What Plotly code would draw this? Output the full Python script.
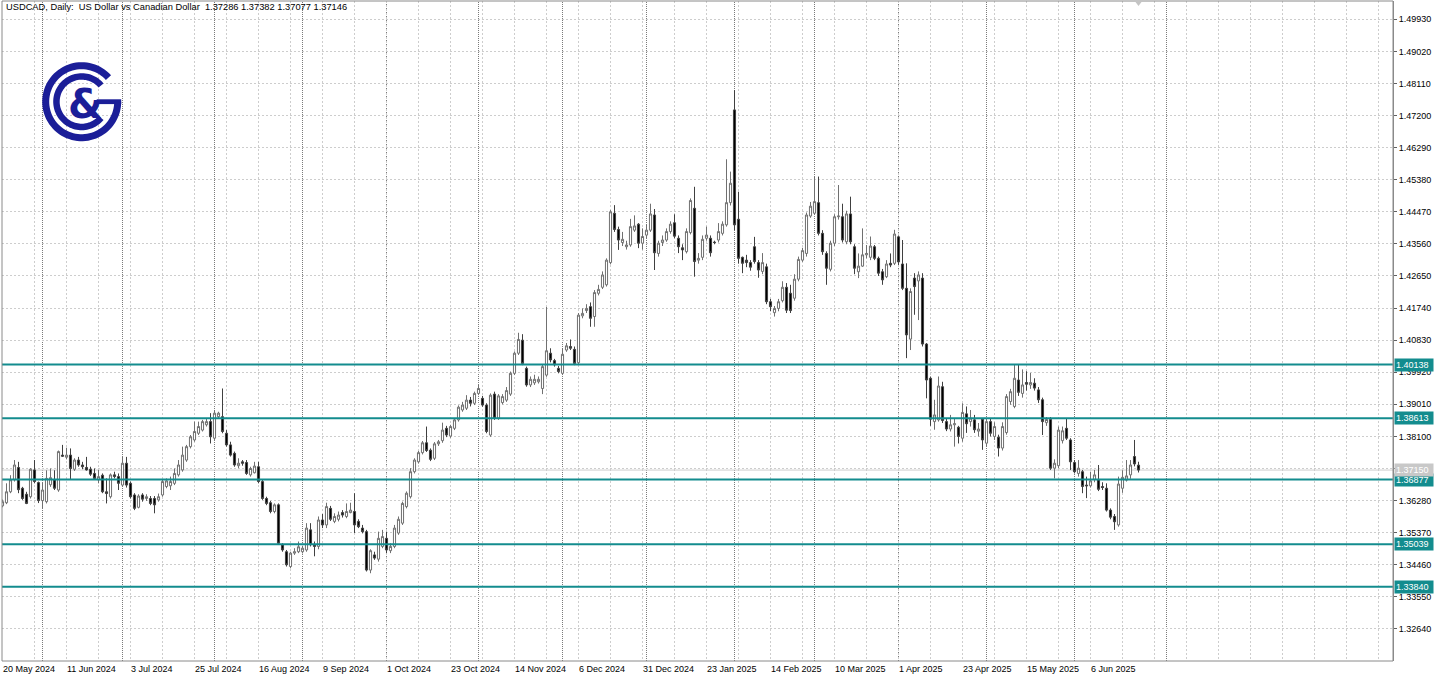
import numpy as np
import plotly.graph_objects as go

# ---------------- data ----------------
opens = [1.3613,1.3622,1.3653,1.3687,1.3722,1.3663,1.3646,1.3639,1.3715,1.3679,
1.3628,1.3625,1.3673,1.3687,1.3658,1.3757,1.3751,1.3757,1.3717,1.3743,
1.3729,1.3722,1.3717,1.3705,1.3687,1.3700,1.3653,1.3639,1.3701,1.3696,
1.3672,1.3734,1.3677,1.3644,1.3609,1.3644,1.3634,1.3634,1.3634,1.3630,
1.3644,1.3668,1.3670,1.3677,1.3701,1.3715,1.3743,1.3781,1.3800,1.3819,
1.3828,1.3843,1.3852,1.3805,1.3866,1.3866,1.3819,1.3786,1.3762,1.3727,
1.3738,1.3736,1.3701,1.3707,1.3724,1.3682,1.3634,1.3622,1.3597,1.3616,
1.3502,1.3483,1.3441,1.3479,1.3483,1.3483,1.3488,1.3545,1.3503,1.3498,
1.3573,1.3559,1.3606,1.3569,1.3575,1.3594,1.3583,1.3594,1.3597,1.3569,
1.3550,1.3540,1.3431,1.3474,1.3462,1.3498,1.3521,1.3486,1.3498,1.3536,
1.3564,1.3611,1.3639,1.3710,1.3738,1.3764,1.3792,1.3771,1.3748,1.3789,
1.3798,1.3833,1.3811,1.3833,1.3857,1.3885,1.3890,1.3913,1.3904,1.3932,
1.3918,1.3899,1.3814,1.3930,1.3862,1.3906,1.3913,1.3930,1.3989,1.4046,
1.4083,1.4003,1.3956,1.3962,1.3965,1.3946,1.3984,1.4046,1.4025,1.4003,
1.3989,1.4055,1.4065,1.4057,1.4019,1.4152,1.4167,1.4178,1.4150,1.4216,
1.4233,1.4240,1.4303,1.4443,1.4397,1.4360,1.4348,1.4353,1.4395,1.4412,
1.4358,1.4381,1.4395,1.4438,1.4329,1.4360,1.4367,1.4391,1.4416,1.4372,
1.4345,1.4334,1.4388,1.4457,1.4310,1.4318,1.4372,1.4372,1.4361,1.4367,
1.4386,1.4410,1.4473,1.4736,1.4426,1.4318,1.4310,1.4303,1.4348,1.4303,
1.4278,1.4291,1.4192,1.4161,1.4173,1.4195,1.4233,1.4216,1.4202,1.4256,
1.4310,1.4329,1.4435,1.4443,1.4473,1.4386,1.4329,1.4284,1.4358,1.4433,
1.4433,1.4362,1.4441,1.4348,1.4277,1.4293,1.4325,1.4318,1.4348,1.4315,
1.4277,1.4263,1.4301,1.4301,1.4376,1.4299,1.4230,1.4086,1.4259,1.4251,
1.4259,1.4072,1.3975,1.3852,1.3857,1.3951,1.3852,1.3831,1.3843,1.3836,
1.3805,1.3874,1.3852,1.3857,1.3825,1.3859,1.3791,1.3852,1.3810,1.3808,
1.3777,1.3821,1.3909,1.3895,1.3970,1.3932,1.3963,1.3956,1.3961,1.3942,
1.3914,1.3849,1.3858,1.3720,1.3727,1.3798,1.3833,1.3800,1.3736,1.3705,
1.3710,1.3672,1.3670,1.3688,1.3687,1.3668,1.3663,1.3601,1.3583,1.3559,
1.3663,1.3686,1.3701,1.3753,1.37286]
highs = [1.3631,1.3677,1.3700,1.3743,1.3738,1.3667,1.3653,1.3720,1.3743,1.3682,
1.3678,1.3714,1.3719,1.3714,1.3770,1.3786,1.3778,1.3776,1.3748,1.3752,
1.3738,1.3752,1.3724,1.3719,1.3715,1.3705,1.3691,1.3705,1.3710,1.3705,
1.3752,1.3752,1.3682,1.3649,1.3646,1.3649,1.3646,1.3641,1.3641,1.3648,
1.3687,1.3691,1.3696,1.3719,1.3743,1.3781,1.3786,1.3814,1.3852,1.3852,
1.3857,1.3862,1.3876,1.3885,1.3880,1.3946,1.3828,1.3795,1.3767,1.3748,
1.3743,1.3743,1.3724,1.3738,1.3738,1.3687,1.3639,1.3627,1.3620,1.3620,
1.3507,1.3488,1.3483,1.3493,1.3512,1.3500,1.3564,1.3564,1.3512,1.3583,
1.3590,1.3622,1.3613,1.3592,1.3597,1.3601,1.3620,1.3622,1.3649,1.3575,
1.3559,1.3545,1.3490,1.3483,1.3540,1.3545,1.3540,1.3507,1.3559,1.3583,
1.3625,1.3654,1.3720,1.3748,1.3769,1.3797,1.3838,1.3776,1.3794,1.3800,
1.3849,1.3840,1.3843,1.3862,1.3898,1.3908,1.3927,1.3922,1.3937,1.3956,
1.3925,1.3904,1.3932,1.3937,1.3930,1.3930,1.3950,1.3994,1.4051,1.4104,
1.4100,1.4008,1.3980,1.3985,1.3980,1.4013,1.4177,1.4060,1.4030,1.4010,
1.4060,1.4075,1.4085,1.4065,1.4160,1.4173,1.4185,1.4190,1.4225,1.4240,
1.4278,1.4315,1.4452,1.4466,1.4405,1.4390,1.4365,1.4427,1.4437,1.4415,
1.4400,1.4410,1.4470,1.4455,1.4365,1.4380,1.4400,1.4420,1.4440,1.4380,
1.4355,1.4400,1.4485,1.4518,1.4330,1.4380,1.4405,1.4380,1.4365,1.4415,
1.4420,1.4596,1.4561,1.4792,1.4504,1.4320,1.4325,1.4310,1.4376,1.4310,
1.4330,1.4300,1.4200,1.4180,1.4200,1.4250,1.4245,1.4240,1.4270,1.4320,
1.4345,1.4445,1.4475,1.4547,1.4547,1.4395,1.4335,1.4365,1.4440,1.4523,
1.4470,1.4450,1.4490,1.4355,1.4329,1.4400,1.4353,1.4377,1.4353,1.4320,
1.4285,1.4310,1.4329,1.4396,1.4380,1.4367,1.4301,1.4230,1.4273,1.4278,
1.4273,1.4075,1.3980,1.3914,1.3980,1.3965,1.3860,1.3871,1.3862,1.3840,
1.3904,1.3895,1.3885,1.3871,1.3848,1.3862,1.3862,1.3860,1.3850,1.3815,
1.3850,1.3930,1.3945,1.4013,1.4013,1.4000,1.3995,1.3990,1.3975,1.3950,
1.3920,1.3865,1.3865,1.3745,1.3838,1.3838,1.3860,1.3805,1.3743,1.3743,
1.3715,1.3696,1.3710,1.3715,1.3729,1.3680,1.3677,1.3606,1.3590,1.3696,
1.3714,1.3743,1.3743,1.3800,1.37382]
lows = [1.3609,1.3618,1.3649,1.3682,1.3649,1.3630,1.3618,1.3634,1.3677,1.3621,
1.3606,1.3620,1.3667,1.3658,1.3653,1.3752,1.3745,1.3687,1.3712,1.3724,
1.3717,1.3713,1.3698,1.3687,1.3677,1.3649,1.3620,1.3634,1.3691,1.3658,
1.3667,1.3665,1.3634,1.3601,1.3606,1.3625,1.3627,1.3615,1.3592,1.3625,
1.3639,1.3663,1.3658,1.3672,1.3696,1.3710,1.3738,1.3776,1.3795,1.3814,
1.3824,1.3838,1.3790,1.3800,1.3862,1.3819,1.3781,1.3753,1.3724,1.3720,
1.3727,1.3701,1.3696,1.3705,1.3677,1.3630,1.3615,1.3592,1.3592,1.3502,
1.3483,1.3441,1.3436,1.3474,1.3479,1.3478,1.3483,1.3498,1.3470,1.3490,
1.3550,1.3550,1.3570,1.3564,1.3569,1.3580,1.3578,1.3592,1.3536,1.3550,
1.3535,1.3427,1.3422,1.3460,1.3455,1.3493,1.3479,1.3479,1.3493,1.3531,
1.3559,1.3606,1.3634,1.3705,1.3733,1.3759,1.3766,1.3740,1.3743,1.3783,
1.3792,1.3808,1.3806,1.3828,1.3852,1.3880,1.3885,1.3895,1.3899,1.3927,
1.3894,1.3819,1.3809,1.3857,1.3857,1.3901,1.3908,1.3925,1.3984,1.4041,
1.4012,1.3951,1.3950,1.3956,1.3960,1.3930,1.3979,1.4020,1.4008,1.3989,
1.3984,1.4050,1.4055,1.4012,1.4015,1.4145,1.4160,1.4121,1.4121,1.4210,
1.4228,1.4235,1.4298,1.4390,1.4339,1.4350,1.4340,1.4348,1.4390,1.4344,
1.4340,1.4372,1.4390,1.4282,1.4320,1.4350,1.4362,1.4385,1.4372,1.4330,
1.4310,1.4329,1.4383,1.4263,1.4300,1.4310,1.4365,1.4320,1.4355,1.4360,
1.4380,1.4405,1.4465,1.4395,1.4300,1.4273,1.4290,1.4280,1.4300,1.4260,
1.4270,1.4185,1.4165,1.4150,1.4165,1.4190,1.4160,1.4160,1.4195,1.4250,
1.4305,1.4320,1.4430,1.4438,1.4380,1.4325,1.4240,1.4278,1.4350,1.4425,
1.4360,1.4355,1.4355,1.4270,1.4259,1.4291,1.4315,1.4310,1.4310,1.4265,
1.4240,1.4259,1.4290,1.4296,1.4296,1.4225,1.4032,1.4055,1.4155,1.4140,
1.4065,1.3918,1.3840,1.3829,1.3852,1.3848,1.3825,1.3824,1.3781,1.3790,
1.3795,1.3820,1.3838,1.3820,1.3810,1.3772,1.3781,1.3810,1.3800,1.3753,
1.3770,1.3815,1.3900,1.3890,1.3925,1.3920,1.3940,1.3945,1.3940,1.3905,
1.3814,1.3840,1.3715,1.3691,1.3720,1.3790,1.3800,1.3715,1.3705,1.3696,
1.3649,1.3635,1.3665,1.3680,1.3655,1.3658,1.3597,1.3575,1.3545,1.3554,
1.3650,1.3682,1.3690,1.3725,1.37077]
closes = [1.3625,1.3653,1.3687,1.3729,1.3659,1.3634,1.3620,1.3717,1.3682,1.3628,
1.3658,1.3691,1.3693,1.3663,1.3767,1.3754,1.3757,1.3719,1.3743,1.3729,
1.3724,1.3715,1.3703,1.3691,1.3696,1.3653,1.3648,1.3701,1.3696,1.3677,
1.3734,1.3672,1.3639,1.3606,1.3641,1.3632,1.3639,1.3620,1.3616,1.3639,
1.3682,1.3684,1.3682,1.3705,1.3729,1.3757,1.3781,1.3809,1.3824,1.3838,
1.3852,1.3852,1.3809,1.3876,1.3876,1.3824,1.3786,1.3757,1.3729,1.3734,
1.3734,1.3705,1.3719,1.3726,1.3682,1.3634,1.3620,1.3597,1.3616,1.3507,
1.3488,1.3446,1.3479,1.3483,1.3497,1.3493,1.3550,1.3503,1.3498,1.3573,
1.3559,1.3611,1.3575,1.3583,1.3587,1.3587,1.3597,1.3601,1.3559,1.3554,
1.3540,1.3431,1.3486,1.3465,1.3521,1.3526,1.3488,1.3498,1.3550,1.3575,
1.3620,1.3649,1.3710,1.3743,1.3764,1.3792,1.3770,1.3745,1.3789,1.3795,
1.3828,1.3814,1.3838,1.3857,1.3893,1.3899,1.3913,1.3904,1.3932,1.3946,
1.3899,1.3824,1.3927,1.3862,1.3925,1.3923,1.3940,1.3989,1.4046,1.4085,
1.4017,1.3956,1.3972,1.3972,1.3972,1.4008,1.4053,1.4027,1.4013,1.3994,
1.4043,1.4067,1.4060,1.4017,1.4154,1.4159,1.4173,1.4145,1.4218,1.4227,
1.4268,1.4310,1.4447,1.4397,1.4367,1.4369,1.4353,1.4405,1.4407,1.4358,
1.4377,1.4395,1.4441,1.4331,1.4358,1.4367,1.4391,1.4412,1.4378,1.4348,
1.4339,1.4391,1.4479,1.4306,1.4315,1.4369,1.4381,1.4331,1.4360,1.4391,
1.4412,1.4473,1.4528,1.4410,1.4315,1.4301,1.4303,1.4290,1.4306,1.4282,
1.4303,1.4192,1.4178,1.4173,1.4192,1.4233,1.4168,1.4167,1.4256,1.4312,
1.4337,1.4438,1.4463,1.4476,1.4386,1.4334,1.4287,1.4358,1.4433,1.4435,
1.4367,1.4441,1.4362,1.4287,1.4293,1.4325,1.4329,1.4350,1.4315,1.4273,
1.4254,1.4299,1.4296,1.4384,1.4305,1.4230,1.4098,1.4221,1.4235,1.4268,
1.4072,1.3970,1.3859,1.3871,1.3953,1.3855,1.3831,1.3843,1.3846,1.3810,
1.3878,1.3846,1.3862,1.3829,1.3831,1.3800,1.3852,1.3819,1.3838,1.3777,
1.3838,1.3923,1.3937,1.3975,1.3935,1.3956,1.3958,1.3963,1.3947,1.3914,
1.3852,1.3858,1.3720,1.3734,1.3828,1.3826,1.3805,1.3738,1.3710,1.3720,
1.3668,1.3670,1.3684,1.3701,1.3660,1.3665,1.3601,1.3581,1.3568,1.3675,
1.3694,1.3698,1.3729,1.3732,1.37146]

date_labels = ["20 May 2024","11 Jun 2024","3 Jul 2024","25 Jul 2024","16 Aug 2024",
               "9 Sep 2024","1 Oct 2024","23 Oct 2024","14 Nov 2024","6 Dec 2024",
               "31 Dec 2024","23 Jan 2025","14 Feb 2025","10 Mar 2025","1 Apr 2025",
               "23 Apr 2025","15 May 2025","6 Jun 2025"]
date_label_bars = [0,16,32,48,64,80,96,112,128,144,160,176,192,208,224,240,256,272]
month_start_bars = [10,30,53,75,96,119,140,161,183,203,224,246,268,291]
price_ticks = ["1.32640","1.33550","1.34460","1.35370","1.36280","1.37190","1.38100",
               "1.39010","1.39920","1.40830","1.41740","1.42650","1.43560","1.44470",
               "1.45380","1.46290","1.47200","1.48110","1.49020","1.49930"]
levels = [1.40138, 1.38613, 1.36877, 1.35039, 1.33840]
level_labels = ["1.40138", "1.38613", "1.36877", "1.35039", "1.33840"]
bid_price = 1.37146
bid_label = "1.37150"
title_text = "USDCAD, Daily:\u00a0 US Dollar vs Canadian Dollar\u00a0 1.37286 1.37382 1.37077 1.37146"

# ---------------- figure ----------------
FONT = "Liberation Sans, Arial, sans-serif"
TEAL = "#138c8e"
BLUE = "#1b1e98"
bars = list(range(len(closes)))

fig = go.Figure()
fig.add_trace(go.Candlestick(
    x=bars, open=opens, high=highs, low=lows, close=closes,
    increasing=dict(line=dict(color="#707070", width=1), fillcolor="#ffffff"),
    decreasing=dict(line=dict(color="#404040", width=1), fillcolor="#000000"),
    whiskerwidth=0, hoverinfo="skip", showlegend=False))

shapes = []
# month separators
for b in month_start_bars:
    shapes.append(dict(type="line", xref="x", yref="paper", x0=b, x1=b, y0=0, y1=1,
                       line=dict(color="#7a7a7a", width=1, dash="1px,1px"), layer="below"))
# support / resistance levels
for lv in levels:
    shapes.append(dict(type="line", xref="paper", yref="y", x0=0, x1=1, y0=lv, y1=lv,
                       line=dict(color=TEAL, width=2)))
# bid line
shapes.append(dict(type="line", xref="paper", yref="y", x0=0, x1=1, y0=bid_price, y1=bid_price,
                   line=dict(color="#cfcfcf", width=1), layer="below"))
# frame
shapes.append(dict(type="rect", xref="paper", yref="paper", x0=0, x1=1, y0=0, y1=1,
                   line=dict(color="#8a8a8a", width=1)))
# chart-shift marker
shapes.append(dict(type="path", xref="x", yref="paper", xsizemode="pixel", ysizemode="pixel",
                   xanchor=len(closes) - 1, yanchor=1,
                   path="M -4.5,1 L 4.5,1 L 0,-5 Z", fillcolor="#c4c4c4", line=dict(width=0)))

# logo (pixel coordinates relative to the plot's top-left corner)
def ring_path(cx, cy, ro, ri, a0, a1, n=80):
    a = np.radians(np.linspace(a0, a1, n))
    outer = [(cx + ro * np.cos(t), cy + ro * np.sin(t)) for t in a]
    inner = [(cx + ri * np.cos(t), cy + ri * np.sin(t)) for t in a[::-1]]
    pts = outer + inner
    return "M " + " L ".join(f"{x:.2f},{y:.2f}" for x, y in pts) + " Z"

cx, cy = 79.7, -100.7
logo_paths = [
    ring_path(cx, cy, 39.5, 32.5, 42, 360),
    ring_path(cx, cy, 28.5, 22.0, 40, 320),
    f"M {cx+15:.1f},{cy+2.4:.1f} L {cx+39.5:.1f},{cy+2.4:.1f} L {cx+39.5:.1f},{cy-2.4:.1f} L {cx+15:.1f},{cy-2.4:.1f} Z",
]
for p in logo_paths:
    shapes.append(dict(type="path", xref="paper", yref="paper", xsizemode="pixel", ysizemode="pixel",
                       xanchor=0, yanchor=1, path=p, fillcolor=BLUE, line=dict(width=0)))

annotations = []
annotations.append(dict(xref="paper", yref="paper", x=0, y=1, xanchor="center", yanchor="middle",
                        xshift=83, yshift=-103, text="<b>&</b>", showarrow=False,
                        font=dict(family="DejaVu Sans, sans-serif", size=40, color=BLUE)))
annotations.append(dict(xref="paper", yref="paper", x=0, y=1, xanchor="left", yanchor="top",
                        xshift=2, yshift=1, text=title_text, showarrow=False,
                        font=dict(family=FONT, size=9.3, color="#000000")))
for b, t in zip(date_label_bars, date_labels):
    annotations.append(dict(xref="x", yref="paper", x=b, y=0, xanchor="left", yanchor="top",
                            xshift=-2, yshift=-1, text=t, showarrow=False,
                            font=dict(family=FONT, size=9, color="#000000")))
for lv, t in zip(levels, level_labels):
    annotations.append(dict(xref="paper", yref="y", x=1, y=lv, xanchor="left", yanchor="middle",
                            xshift=1, text=t, showarrow=False, bgcolor=TEAL, width=36, height=10,
                            align="left", borderpad=1,
                            font=dict(family=FONT, size=9, color="#ffffff")))
annotations.append(dict(xref="paper", yref="y", x=1, y=bid_price, xanchor="left", yanchor="middle",
                        xshift=1, text=bid_label, showarrow=False, bgcolor="#c8c8c8", width=36, height=10,
                        align="left", borderpad=1,
                        font=dict(family=FONT, size=9, color="#ffffff")))

fig.update_layout(
    width=1441, height=676,
    margin=dict(l=2, r=48, t=1, b=15),
    paper_bgcolor="#ffffff", plot_bgcolor="#ffffff",
    shapes=shapes, annotations=annotations,
    boxgap=0.25,
    showlegend=False,
    xaxis=dict(range=[-0.125, 347.625], rangeslider=dict(visible=False),
               tickvals=list(range(0, 348, 8)), showticklabels=False, ticks="",
               showgrid=True, gridcolor="#cdcdcd", griddash="2px,2px", gridwidth=1,
               zeroline=False, showline=False, fixedrange=True),
    yaxis=dict(side="right", range=[1.31731, 1.50449],
               tickvals=[float(v) for v in price_ticks], ticktext=price_ticks,
               ticks="outside", ticklen=3, tickcolor="#606060",
               tickfont=dict(family=FONT, size=9, color="#000000"),
               showgrid=True, gridcolor="#cdcdcd", griddash="2px,2px", gridwidth=1,
               showline=True, linecolor="#8a8a8a", zeroline=False, fixedrange=True),
)

fig.write_html("out.html", config={"displayModeBar": False},
               post_script="document.body.style.margin='0';document.body.style.overflow='hidden';")
